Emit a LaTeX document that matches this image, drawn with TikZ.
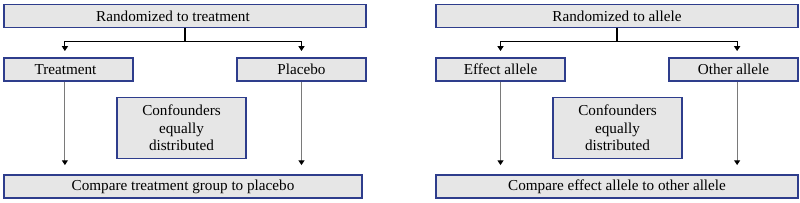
\documentclass[tikz,border=0pt]{standalone}
\usepackage{fontspec}
\setmainfont{Liberation Serif}
\usetikzlibrary{arrows.meta}
\definecolor{boxfill}{HTML}{E6E6E6}
\definecolor{boxline}{HTML}{2E3D8C}
\definecolor{stemgray}{HTML}{7A7A7A}
\tikzstyle{every node}=[font=\fontsize{10.8}{12.4}\selectfont]
\tikzstyle{box}=[draw=boxline,fill=boxfill,line width=1.3pt,inner sep=0pt,minimum height=0.575cm]
\tikzstyle{wide}=[box,minimum width=9.05cm]
\tikzstyle{arm}=[box,minimum width=3.225cm]
\tikzstyle{conf}=[box,minimum width=3.225cm,minimum height=1.525cm,align=center]
\tikzstyle{tip}=[-{Triangle[length=1.2mm,width=1.5mm,color=black]}]

\begin{document}
\begin{tikzpicture}[x=0.025cm,y=-0.025cm]
	\tikzstyle{link} = [tip,line width=0.75pt,shorten >=4.3pt]
	\useasboundingbox (0,0) rectangle (800,203);
	
	% left: trial
	\node[wide] (rt) at (185,16) {Randomized to treatment\hspace*{0.6cm}};
	\node[arm] (trt) at (68.5,69.5) {Treatment\hspace*{0.15cm}};
	\node[arm] (plc) at (301.5,69.5) {Placebo};
	\node[conf] (cfl) at (181.5,128) {Confounders\\equally\\distributed};
	\node[box,minimum width=8.95cm] (cmpl) at (183,186.5) {Compare treatment group to placebo};
	
	\draw[line width=0.75pt] (rt.south) -- ++(0,13) coordinate (rtj);
	\draw[link] (rtj) -| ([xshift=-0.09cm]trt.north);
	\draw[link] (rtj) -| (plc.north);
	\draw[link,stemgray,shorten >=6.4pt] ([xshift=-0.09cm]trt.south) -- ([xshift=-0.09cm]trt.south |- cmpl.north);
	\draw[link,stemgray,shorten >=6.4pt] (plc.south) -- (plc.south |- cmpl.north);
	
	% right: mendelian randomization
	\node[wide] (ra) at (617,16) {Randomized to allele};
	\node[arm] (eff) at (500.5,69.5) {Effect allele};
	\node[arm] (oth) at (733.5,69.5) {Other allele};
	\node[conf] (cfr) at (617.5,128) {Confounders\\equally\\distributed};
	\node[wide] (cmpr) at (617,186.5) {Compare effect allele to other allele};
	
	\draw[line width=0.75pt] (ra.south) -- ++(0,13) coordinate (raj);
	\draw[link] (raj) -| (eff.north);
	\draw[link] (raj) -| ([xshift=0.09cm]oth.north);
	\draw[link,stemgray,shorten >=6.4pt] (eff.south) -- (eff.south |- cmpr.north);
	\draw[link,stemgray,shorten >=6.4pt] ([xshift=0.09cm]oth.south) -- ([xshift=0.09cm]oth.south |- cmpr.north);
	
\end{tikzpicture}
\end{document}
